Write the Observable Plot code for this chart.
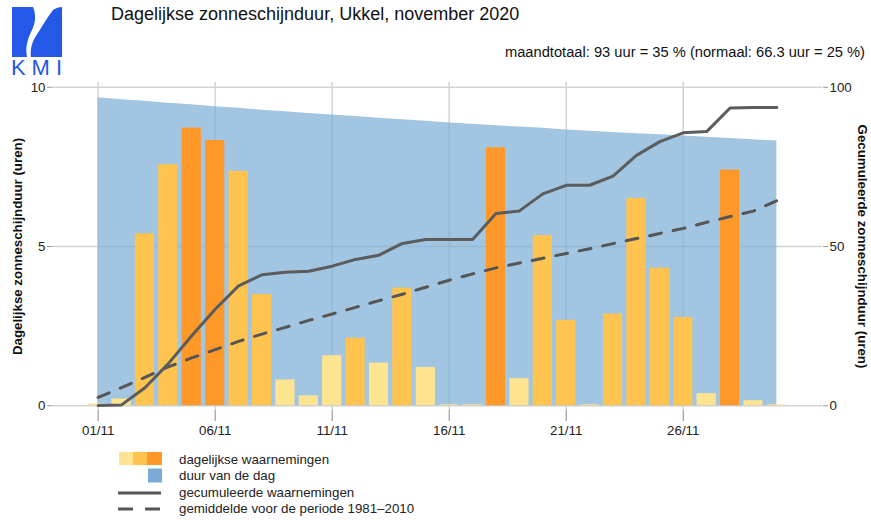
<!DOCTYPE html>
<html>
<head>
<meta charset="utf-8">
<script src="https://cdn.jsdelivr.net/npm/d3@7"></script>
<script src="https://cdn.jsdelivr.net/npm/@observablehq/plot@0.6"></script>
<style>
  body { margin: 0; background: #fff; font-family: "Liberation Sans", Arial, sans-serif; }
  #wrap { position: relative; width: 871px; height: 520px; overflow: hidden; background: #fff; }
  #title { position: absolute; left: 111px; top: 4px; font-size: 18px; color: #111; white-space: nowrap; }
  #sub { position: absolute; right: 6px; top: 44px; font-size: 14.7px; color: #111; white-space: nowrap; }
  #chart { position: absolute; left: 0; top: 70px; }
  #legend { position: absolute; left: 0; top: 450px; }
</style>
</head>
<body>
<div id="wrap">
  <svg id="logo" style="position:absolute;left:0;top:0" width="80" height="80">
    <path fill="#2458e6" d="M12,7 L33,7 C36,14 36,22 32,30 C28,38 25,46 27,57 L12,57 Z"/>
    <path fill="#2458e6" d="M62,7 L62,57 L31,57 C30,49 32,42 36,36 C41,28 47,18 53,10 C56,8 59,7 62,7 Z"/>
    <text x="11" y="75" font-size="22" fill="#2458e6" textLength="51" lengthAdjust="spacing" font-family="Liberation Sans, Arial, sans-serif">KMI</text>
  </svg>
  <div id="title">Dagelijkse zonneschijnduur, Ukkel, november 2020</div>
  <div id="sub">maandtotaal: 93 uur = 35 % (normaal: 66.3 uur = 25 %)</div>
  <div id="chart"></div>
  <svg id="legend" width="871" height="70" font-family="Liberation Sans, Arial, sans-serif" font-size="13.3" fill="#222">
    <rect x="119" y="2" width="14" height="13" fill="#FEE391"/>
    <rect x="133" y="2" width="14" height="13" fill="#FEC44F"/>
    <rect x="147" y="2" width="15" height="13" fill="#FE9929"/>
    <rect x="148" y="18.5" width="14" height="14" fill="#7AACD6"/>
    <line x1="118" x2="161" y1="43" y2="43" stroke="#555" stroke-width="3"/>
    <line x1="118" x2="161" y1="59" y2="59" stroke="#555" stroke-width="3" stroke-dasharray="15,12"/>
    <text x="179" y="13.5">dagelijkse waarnemingen</text>
    <text x="179" y="30">duur van de dag</text>
    <text x="179" y="46.5">gecumuleerde waarnemingen</text>
    <text x="179" y="63">gemiddelde voor de periode 1981–2010</text>
  </svg>
</div>
<script>
const days = [1,2,3,4,5,6,7,8,9,10,11,12,13,14,15,16,17,18,19,20,21,22,23,24,25,26,27,28,29,30];
const sunshine = [0.05,0.21,5.40,7.57,8.72,8.33,7.36,3.49,0.81,0.31,1.57,2.12,1.34,3.69,1.20,0.03,0.03,8.10,0.85,5.34,2.68,0.03,2.88,6.51,4.32,2.77,0.38,7.40,0.16,0.03];
const level = ["laag","laag","midden","midden","hoog","hoog","midden","midden","laag","laag","laag","midden","laag","midden","laag","laag","laag","hoog","laag","midden","midden","laag","midden","midden","midden","midden","laag","hoog","laag","laag"];
const dayLength = [9.67,9.61,9.56,9.50,9.45,9.39,9.34,9.28,9.23,9.18,9.13,9.08,9.03,8.98,8.93,8.88,8.84,8.79,8.75,8.71,8.66,8.62,8.58,8.54,8.51,8.47,8.43,8.39,8.35,8.31];
const normalCum = [2.6,5.7,8.9,12.2,15.0,17.6,20.2,22.5,24.6,26.8,28.8,30.9,33.0,35.0,37.2,39.4,41.4,43.3,44.8,46.3,47.8,49.3,50.9,52.5,54.1,55.7,57.6,59.4,61.1,64.4];
const xTicks = [1,6,11,16,21,26];
const xTickLabels = ["01/11","06/11","11/11","16/11","21/11","26/11"];
const yTicks = [0,5,10];
const cumTickLabels = ["0","50","100"];

const cum = d3.cumsum(sunshine);
const rows = days.map((d, i) => ({day: d, sun: sunshine[i], len: dayLength[i], cum: cum[i], norm: normalCum[i], level: level[i]}));

const plot = Plot.plot({
  width: 871,
  height: 380,
  marginTop: 12,
  marginBottom: 40,
  marginLeft: 52,
  marginRight: 49,
  style: {fontFamily: "Liberation Sans, Arial, sans-serif", fontSize: "13.3px", color: "#222", background: "transparent", overflow: "visible"},
  x: {domain: [-0.95, 31.95], axis: null},
  y: {domain: [-0.15, 10.15], axis: null},
  color: {domain: ["laag","midden","hoog"], range: ["#FEE391","#FEC44F","#FE9929"]},
  marks: [
    Plot.gridY(yTicks, {stroke: "#d4d4d4", strokeOpacity: 1, strokeWidth: 1.5}),
    Plot.gridX(xTicks, {stroke: "#d4d4d4", strokeOpacity: 1, strokeWidth: 1.5}),
    Plot.areaY(rows, {x: "day", y: "len", fill: "#7AACD6", fillOpacity: 0.7}),
    Plot.rectY(rows, {x1: d => d.day - 0.41, x2: d => d.day + 0.41, y: "sun", fill: "level"}),
    Plot.line(rows, {x: "day", y: d => d.norm / 10, stroke: "#555", strokeWidth: 3, strokeDasharray: "12,12"}),
    Plot.line(rows, {x: "day", y: d => d.cum / 10, stroke: "#5c5c5c", strokeWidth: 3}),
    Plot.axisX(xTicks, {tickSize: 11, tickPadding: 4, tickFormat: d => xTickLabels[xTicks.indexOf(d)], stroke: "#888", label: null}),
    Plot.axisY(yTicks, {anchor: "left", tickSize: 5, tickPadding: 2, stroke: "#999", label: null}),
    Plot.axisY(yTicks, {anchor: "right", tickSize: 5, tickPadding: 2, stroke: "#999", tickFormat: d => cumTickLabels[yTicks.indexOf(d)], label: null}),
    Plot.text(["Dagelijkse zonneschijnduur (uren)"], {frameAnchor: "left", rotate: -90, dx: -35, textAnchor: "middle", fontWeight: "bold", fill: "#111"}),
    Plot.text(["Gecumuleerde zonneschijnduur (uren)"], {frameAnchor: "right", rotate: 90, dx: 40, textAnchor: "middle", fontWeight: "bold", fill: "#111"})
  ]
});
document.getElementById("chart").appendChild(plot);
</script>
</body>
</html>
